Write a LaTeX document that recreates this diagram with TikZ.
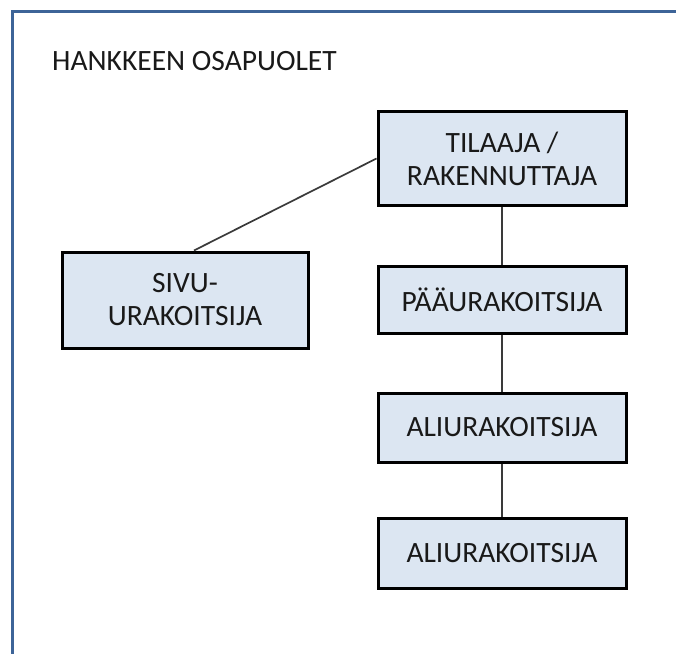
\documentclass[tikz,border=0pt]{standalone}
\usepackage{fontspec}
\setmainfont{Carlito}
\usetikzlibrary{calc}
\definecolor{framecol}{HTML}{3D6498}
\definecolor{boxfill}{HTML}{DCE6F2}
\definecolor{linkcol}{HTML}{3A3A3A}
\begin{document}
\begin{tikzpicture}[x=1pt,y=-1pt,
  orgbox/.style={draw=black, line width=3pt, fill=boxfill, inner sep=0pt,
    align=center, text=black!90, font=\fontsize{29.5}{33}\selectfont},
  link/.style={draw=linkcol, line width=1.7pt},
  frameline/.style={draw=framecol, line width=3pt}]
\useasboundingbox (0,0) rectangle (676,653);
\draw[frameline] (680,11) -- (12,11) -- (12,660);
\node[anchor=base west, inner sep=0pt, text=black!90, font=\fontsize{29.5}{33}\selectfont] (title) at (52,70) {HANKKEEN OSAPUOLET};
\node[orgbox, minimum width=248pt, minimum height=94pt] (tilaaja) at (502,158.5) {TILAAJA /\\RAKENNUTTAJA};
\node[orgbox, minimum width=246pt, minimum height=96pt] (sivu) at (185,300) {SIVU-\\URAKOITSIJA};
\node[orgbox, minimum width=248pt, minimum height=67pt] (paa) at (502,299.5) {PÄÄURAKOITSIJA};
\node[orgbox, minimum width=248pt, minimum height=69pt] (ali1) at (502,427.5) {ALIURAKOITSIJA};
\node[orgbox, minimum width=248pt, minimum height=70pt] (ali2) at (502,553) {ALIURAKOITSIJA};
\coordinate (sivutop) at ($(sivu.north west)!0.536!(sivu.north east)$);
\draw[link] (sivutop) -- (tilaaja.west);
\draw[link] (tilaaja.south) -- (paa.north);
\draw[link] (paa.south) -- (ali1.north);
\draw[link] (ali1.south) -- (ali2.north);
\end{tikzpicture}
\end{document}
